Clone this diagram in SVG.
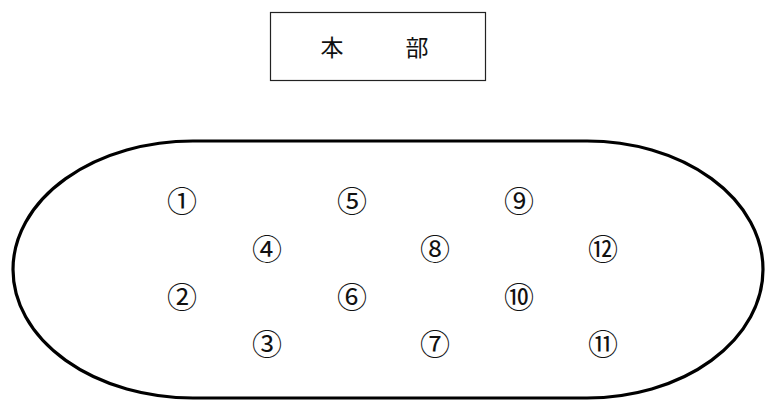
<svg xmlns="http://www.w3.org/2000/svg" width="765" height="401" viewBox="0 0 765 401">
<style>
.lbl{font-family:"Noto Sans CJK JP","Noto Sans CJK SC",sans-serif;font-size:30px;fill:#111;text-anchor:middle;dominant-baseline:central}
.ttl{font-family:"Noto Sans CJK JP","Noto Sans CJK SC",sans-serif;font-size:23px;fill:#111;text-anchor:middle;dominant-baseline:central}
</style>
<rect width="765" height="401" fill="#fff"/>
<g id="honbu">
<rect x="270.5" y="12.5" width="215" height="68" fill="none" stroke="#222" stroke-width="1.2"/>
<text class="ttl" x="332" y="46">本</text>
<text class="ttl" x="417" y="46">部</text>
</g>
<g id="track">
<path d="M 193 141 L 587 141 A 176 128.5 0 0 1 587 398 L 193 398 A 180 128.5 0 0 1 193 141 Z" fill="none" stroke="#000" stroke-width="3.2"/>
</g>
<g id="connectors"></g>
<g id="n1"><text class="lbl" x="182" y="199">①</text></g>
<g id="n2"><text class="lbl" x="182" y="295">②</text></g>
<g id="n3"><text class="lbl" x="267" y="342">③</text></g>
<g id="n4"><text class="lbl" x="267" y="247">④</text></g>
<g id="n5"><text class="lbl" x="352" y="199">⑤</text></g>
<g id="n6"><text class="lbl" x="352" y="295">⑥</text></g>
<g id="n7"><text class="lbl" x="435" y="342">⑦</text></g>
<g id="n8"><text class="lbl" x="435" y="247">⑧</text></g>
<g id="n9"><text class="lbl" x="519" y="199">⑨</text></g>
<g id="n10"><text class="lbl" x="519" y="295">⑩</text></g>
<g id="n11"><text class="lbl" x="603" y="342">⑪</text></g>
<g id="n12"><text class="lbl" x="603" y="247">⑫</text></g>
</svg>
